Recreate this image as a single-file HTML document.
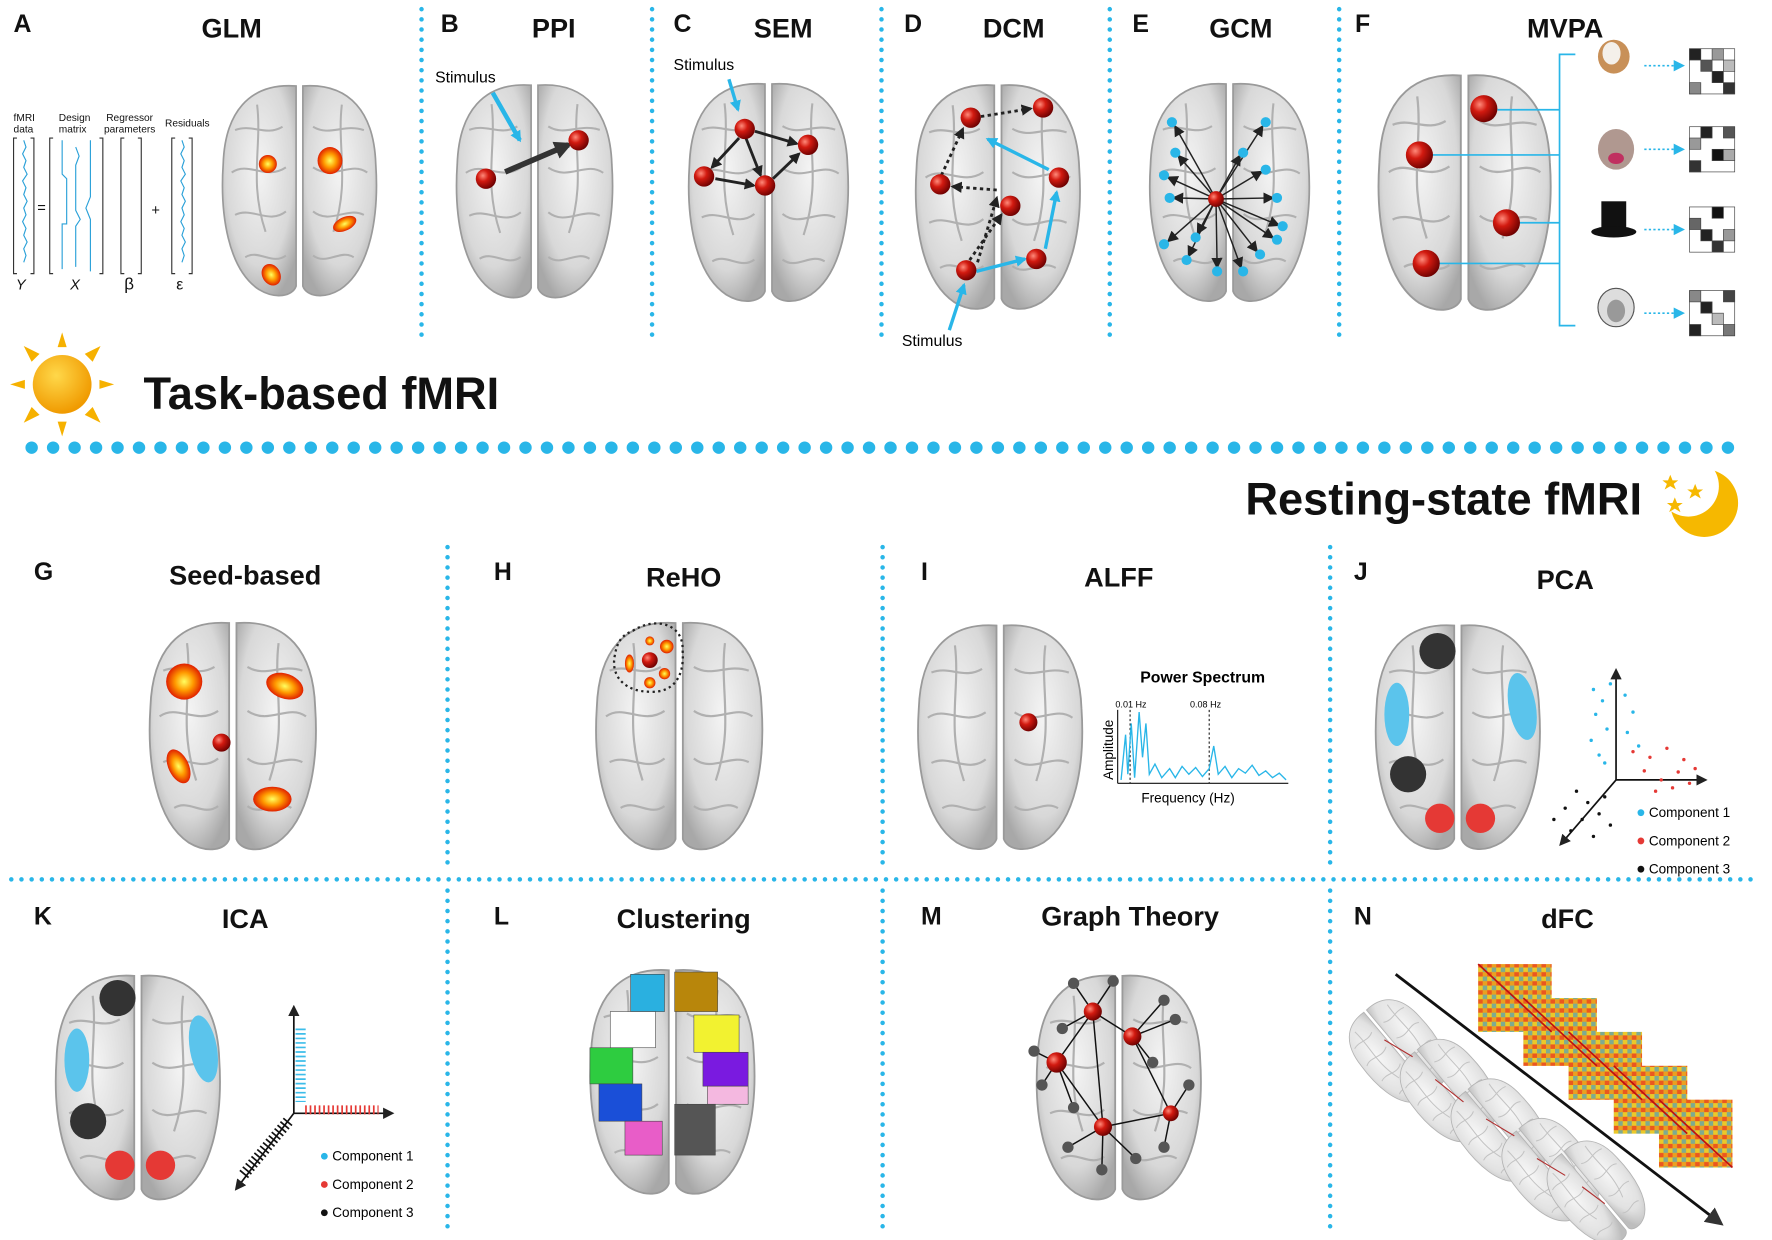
<!DOCTYPE html>
<html><head><meta charset="utf-8"><style>
html,body{margin:0;padding:0;background:#fff;}
svg{display:block;}
text{font-family:"Liberation Sans",sans-serif;}
</style></head><body>
<svg width="1772" height="1240" viewBox="0 0 1568 1097" xmlns="http://www.w3.org/2000/svg">
<defs>
<radialGradient id="hemi" cx="50%" cy="40%" r="65%"><stop offset="0" stop-color="#f4f4f4"/><stop offset="0.7" stop-color="#d8d8d8"/><stop offset="1" stop-color="#a8a8a8"/></radialGradient>
<radialGradient id="red" cx="35%" cy="35%" r="70%"><stop offset="0" stop-color="#ff8a7a"/><stop offset="0.4" stop-color="#d21a10"/><stop offset="1" stop-color="#6a0000"/></radialGradient>
<radialGradient id="blob" cx="50%" cy="50%" r="50%"><stop offset="0" stop-color="#ffff60"/><stop offset="0.5" stop-color="#ff9a00"/><stop offset="1" stop-color="#e02000"/></radialGradient>
<radialGradient id="sun" cx="40%" cy="35%" r="65%"><stop offset="0" stop-color="#ffd84a"/><stop offset="1" stop-color="#f09a00"/></radialGradient>
<marker id="ak" markerUnits="userSpaceOnUse" markerWidth="10" markerHeight="10" refX="8" refY="5" orient="auto"><path d="M0,0 L10,5 L0,10 z" fill="#222"/></marker>
<marker id="akb" markerUnits="userSpaceOnUse" markerWidth="16" markerHeight="16" refX="12" refY="8" orient="auto"><path d="M0,0 L16,8 L0,16 z" fill="#333"/></marker>
<marker id="ab" markerUnits="userSpaceOnUse" markerWidth="10" markerHeight="10" refX="8" refY="5" orient="auto"><path d="M0,0 L10,5 L0,10 z" fill="#29b6e8"/></marker>
<symbol id="brain" viewBox="0 0 100 130">
<path d="M48,4 C20,2 6,20 5,50 C3,80 8,112 26,124 C36,130 46,128 48,122 Z" fill="url(#hemi)" stroke="#9a9a9a" stroke-width="1"/>
<path d="M52,4 C80,2 94,20 95,50 C97,80 92,112 74,124 C64,130 54,128 52,122 Z" fill="url(#hemi)" stroke="#9a9a9a" stroke-width="1"/>
<g fill="none" stroke="#b0b0b0" stroke-width="1.2">
<path d="M12,30 C22,26 30,34 40,28"/><path d="M10,55 C20,48 30,60 42,52"/><path d="M12,80 C22,75 32,86 42,78"/><path d="M18,105 C26,100 34,110 42,104"/>
<path d="M58,28 C68,34 76,26 88,30"/><path d="M58,52 C70,60 80,48 90,55"/><path d="M58,78 C68,86 78,75 88,80"/><path d="M58,104 C66,110 74,100 82,105"/>
<path d="M25,15 C28,40 20,60 30,90"/><path d="M75,15 C72,40 80,60 70,90"/></g>
</symbol>
<pattern id="heat" width="8" height="8" patternUnits="userSpaceOnUse"><rect width="8" height="8" fill="#e8a020"/><rect width="4" height="4" fill="#40b0d0"/><rect x="4" y="4" width="4" height="4" fill="#e83020"/><rect x="4" width="4" height="4" fill="#e8e030"/></pattern>
</defs>

<g stroke="#29b6e8" stroke-width="4" stroke-linecap="round" stroke-dasharray="0 9">
<line x1="373" y1="8" x2="373" y2="302"/><line x1="577" y1="8" x2="577" y2="302"/><line x1="780" y1="8" x2="780" y2="302"/><line x1="982" y1="8" x2="982" y2="302"/><line x1="1185" y1="8" x2="1185" y2="302"/>
<line x1="396" y1="484" x2="396" y2="770"/><line x1="781" y1="484" x2="781" y2="770"/><line x1="1177" y1="484" x2="1177" y2="770"/>
<line x1="10" y1="778" x2="1558" y2="778"/>
<line x1="396" y1="788" x2="396" y2="1090"/><line x1="781" y1="788" x2="781" y2="1090"/><line x1="1177" y1="788" x2="1177" y2="1090"/>
</g>
<line x1="28" y1="396" x2="1545" y2="396" stroke="#29b6e8" stroke-width="11" stroke-linecap="round" stroke-dasharray="0 19"/>

<g font-weight="bold" font-size="22" fill="#111">
<text x="12" y="28">A</text><text x="390" y="28">B</text><text x="596" y="28">C</text><text x="800" y="28">D</text><text x="1002" y="28">E</text><text x="1199" y="28">F</text>
<text x="30" y="513">G</text><text x="437" y="513">H</text><text x="815" y="513">I</text><text x="1198" y="513">J</text>
<text x="30" y="818">K</text><text x="437" y="818">L</text><text x="815" y="818">M</text><text x="1198" y="818">N</text>
</g>
<g font-weight="bold" font-size="24" fill="#111" text-anchor="middle">
<text x="205" y="33">GLM</text><text x="490" y="33">PPI</text><text x="693" y="33">SEM</text><text x="897" y="33">DCM</text><text x="1098" y="33">GCM</text><text x="1385" y="33">MVPA</text>
<text x="217" y="517">Seed-based</text><text x="605" y="519">ReHO</text><text x="990" y="519">ALFF</text><text x="1385" y="521">PCA</text>
<text x="217" y="821">ICA</text><text x="605" y="821">Clustering</text><text x="1000" y="819">Graph Theory</text><text x="1387" y="821">dFC</text>
</g>

<g transform="translate(55,340)" fill="#f6b100">
<polygon points="-4,-33 4,-33 0,-46"/><polygon points="-4,33 4,33 0,46"/><polygon points="-33,-4 -33,4 -46,0"/><polygon points="33,-4 33,4 46,0"/>
<polygon points="20,-27 27,-20 34,-34"/><polygon points="-20,-27 -27,-20 -34,-34"/><polygon points="20,27 27,20 34,34"/><polygon points="-20,27 -27,20 -34,34"/>
<circle r="26" fill="url(#sun)"/></g>
<text x="127" y="362" font-size="40" font-weight="bold" fill="#111">Task-based fMRI</text>
<text x="1453" y="455" font-size="40" font-weight="bold" fill="#111" text-anchor="end">Resting-state fMRI</text>
<circle cx="1508" cy="445" r="30" fill="#f6b800"/><circle cx="1494" cy="430" r="27" fill="#fff"/>
<g fill="#f6b800">
<polygon points="1478,420 1480,425 1485,425 1481,428 1483,433 1478,430 1473,433 1475,428 1471,425 1476,425"/>
<polygon points="1500,428 1502,433 1507,433 1503,436 1505,441 1500,438 1495,441 1497,436 1493,433 1498,433"/>
<polygon points="1482,440 1484,445 1489,445 1485,448 1487,453 1482,450 1477,453 1479,448 1475,445 1480,445"/>
</g>

<!-- A GLM -->
<g font-size="9" fill="#111">
<text x="12" y="107">fMRI</text><text x="12" y="117">data</text>
<text x="52" y="107">Design</text><text x="52" y="117">matrix</text>
<text x="94" y="107">Regressor</text><text x="92" y="117">parameters</text>
<text x="146" y="112">Residuals</text>
<text x="14" y="256" font-style="italic" font-size="13">Y</text><text x="62" y="256" font-style="italic" font-size="13">X</text><text x="110" y="256" font-size="15">β</text><text x="156" y="256" font-size="14">ε</text>
<text x="33" y="188" font-size="13">=</text><text x="134" y="190" font-size="13">+</text>
</g>
<g fill="none" stroke="#333" stroke-width="1">
<path d="M15,122 h-3 v120 h3 M27,122 h3 v120 h-3"/><path d="M47,122 h-3 v120 h3 M88,122 h3 v120 h-3"/><path d="M110,122 h-3 v120 h3 M122,122 h3 v120 h-3"/><path d="M155,122 h-3 v120 h3 M167,122 h3 v120 h-3"/>
</g>
<g fill="none" stroke="#29a0d8" stroke-width="1">
<path d="M21,124 l2,6 -3,6 3,6 -2,6 3,6 -4,6 3,6 -2,6 3,6 -3,6 2,6 -3,6 3,6 -2,6 3,6 -3,6 2,6 -2,6"/>
<path d="M55,124 v30 l4,4 v40 h-4 v40"/><path d="M67,130 l3,8 -3,8 v40 l4,8 -4,6 v36"/><path d="M80,124 v50 l-4,10 4,10 v46"/>
<path d="M161,124 l2,6 -3,6 3,6 -2,6 3,6 -4,6 3,6 -2,6 3,6 -3,6 2,6 -3,6 3,6 -2,6 3,6 -3,6 2,6 -2,6"/>
</g>
<use href="#brain" x="190" y="70" width="150" height="195"/>
<circle cx="237" cy="145" r="8" fill="url(#blob)"/><ellipse cx="292" cy="142" rx="11" ry="12" fill="url(#blob)"/><ellipse cx="305" cy="198" rx="11" ry="6" fill="url(#blob)" transform="rotate(-25 305 198)"/><ellipse cx="240" cy="243" rx="8" ry="10" fill="url(#blob)" transform="rotate(-30 240 243)"/>

<!-- B PPI -->
<use href="#brain" x="397" y="68" width="152" height="200"/>
<text x="385" y="73" font-size="14">Stimulus</text>
<line x1="436" y1="82" x2="460" y2="124" stroke="#29b6e8" stroke-width="4" marker-end="url(#ab)"/>
<line x1="447" y1="152" x2="503" y2="128" stroke="#333" stroke-width="5" marker-end="url(#akb)"/>
<circle cx="430" cy="158" r="9" fill="url(#red)"/><circle cx="512" cy="124" r="9" fill="url(#red)"/>

<!-- C SEM -->
<use href="#brain" x="600" y="68" width="160" height="202"/>
<text x="596" y="62" font-size="14">Stimulus</text>
<line x1="645" y1="70" x2="653" y2="97" stroke="#29b6e8" stroke-width="3" marker-end="url(#ab)"/>
<g stroke="#222" stroke-width="2.5" marker-end="url(#ak)"><line x1="668" y1="116" x2="705" y2="127"/><line x1="654" y1="122" x2="630" y2="148"/><line x1="660" y1="122" x2="673" y2="155"/><line x1="633" y1="158" x2="667" y2="164"/><line x1="684" y1="158" x2="707" y2="136"/></g>
<circle cx="659" cy="114" r="9" fill="url(#red)"/><circle cx="715" cy="128" r="9" fill="url(#red)"/><circle cx="623" cy="156" r="9" fill="url(#red)"/><circle cx="677" cy="164" r="9" fill="url(#red)"/>

<!-- D DCM -->
<use href="#brain" x="803" y="66" width="160" height="214"/>
<g stroke="#222" stroke-width="2.5" stroke-dasharray="3 3" fill="none" marker-end="url(#ak)"><line x1="868" y1="103" x2="912" y2="96"/><line x1="833" y1="155" x2="852" y2="114"/><line x1="882" y1="168" x2="843" y2="165"/><line x1="858" y1="230" x2="886" y2="190"/><line x1="865" y1="232" x2="882" y2="175"/></g>
<g stroke="#29b6e8" stroke-width="3" marker-end="url(#ab)"><line x1="928" y1="150" x2="874" y2="123"/><line x1="925" y1="220" x2="935" y2="170"/><line x1="864" y1="240" x2="907" y2="229"/><line x1="840" y1="292" x2="853" y2="252"/></g>
<circle cx="859" cy="104" r="9" fill="url(#red)"/><circle cx="923" cy="95" r="9" fill="url(#red)"/><circle cx="832" cy="163" r="9" fill="url(#red)"/><circle cx="937" cy="157" r="9" fill="url(#red)"/><circle cx="894" cy="182" r="9" fill="url(#red)"/><circle cx="855" cy="239" r="9" fill="url(#red)"/><circle cx="917" cy="229" r="9" fill="url(#red)"/>
<text x="798" y="306" font-size="14">Stimulus</text>

<!-- E GCM -->
<use href="#brain" x="1008" y="68" width="160" height="202"/>
<g stroke="#222" stroke-width="1.3" marker-end="url(#ak)">
<line x1="1076" y1="176" x2="1040" y2="112"/><line x1="1076" y1="176" x2="1117" y2="112"/><line x1="1076" y1="176" x2="1043" y2="138"/><line x1="1076" y1="176" x2="1097" y2="138"/><line x1="1076" y1="176" x2="1034" y2="157"/><line x1="1076" y1="176" x2="1116" y2="152"/><line x1="1076" y1="176" x2="1039" y2="175"/><line x1="1076" y1="176" x2="1126" y2="175"/><line x1="1076" y1="176" x2="1034" y2="213"/><line x1="1076" y1="176" x2="1131" y2="199"/><line x1="1076" y1="176" x2="1052" y2="226"/><line x1="1076" y1="176" x2="1112" y2="222"/><line x1="1076" y1="176" x2="1077" y2="236"/><line x1="1076" y1="176" x2="1098" y2="236"/><line x1="1076" y1="176" x2="1060" y2="206"/><line x1="1076" y1="176" x2="1126" y2="210"/></g>
<g fill="#29b6e8"><circle cx="1037" cy="108" r="4.5"/><circle cx="1120" cy="108" r="4.5"/><circle cx="1040" cy="135" r="4.5"/><circle cx="1100" cy="135" r="4.5"/><circle cx="1030" cy="155" r="4.5"/><circle cx="1120" cy="150" r="4.5"/><circle cx="1035" cy="175" r="4.5"/><circle cx="1130" cy="175" r="4.5"/><circle cx="1030" cy="216" r="4.5"/><circle cx="1135" cy="200" r="4.5"/><circle cx="1050" cy="230" r="4.5"/><circle cx="1115" cy="225" r="4.5"/><circle cx="1077" cy="240" r="4.5"/><circle cx="1100" cy="240" r="4.5"/><circle cx="1058" cy="210" r="4.5"/><circle cx="1130" cy="212" r="4.5"/></g>
<circle cx="1076" cy="176" r="7" fill="url(#red)"/>

<!-- F MVPA -->
<use href="#brain" x="1210" y="60" width="172" height="218"/>
<g stroke="#29b6e8" stroke-width="1.5" fill="none"><line x1="1325" y1="97" x2="1380" y2="97"/><line x1="1265" y1="137" x2="1380" y2="137"/><line x1="1345" y1="197" x2="1380" y2="197"/><line x1="1270" y1="233" x2="1380" y2="233"/><path d="M1394,48 h-14 v240 h14"/></g>
<circle cx="1313" cy="96" r="12" fill="url(#red)"/><circle cx="1256" cy="137" r="12" fill="url(#red)"/><circle cx="1333" cy="197" r="12" fill="url(#red)"/><circle cx="1262" cy="233" r="12" fill="url(#red)"/>
<g><ellipse cx="1428" cy="50" rx="14" ry="15" fill="#c89058"/><ellipse cx="1426" cy="47" rx="8" ry="10" fill="#f4f0ea"/>
<ellipse cx="1430" cy="132" rx="16" ry="18" fill="#b09890"/><ellipse cx="1430" cy="140" rx="7" ry="5" fill="#c03060"/>
<rect x="1417" y="178" width="22" height="24" fill="#111"/><ellipse cx="1428" cy="205" rx="20" ry="5" fill="#111"/>
<ellipse cx="1430" cy="272" rx="16" ry="17" fill="#ddd" stroke="#555"/><ellipse cx="1430" cy="275" rx="8" ry="10" fill="#999"/></g>
<g stroke="#29b6e8" stroke-width="1.5" stroke-dasharray="2 2" marker-end="url(#ab)"><line x1="1455" y1="58" x2="1489" y2="58"/><line x1="1455" y1="132" x2="1489" y2="132"/><line x1="1455" y1="203" x2="1489" y2="203"/><line x1="1455" y1="277" x2="1489" y2="277"/></g>
<g stroke="#444" stroke-width="0.6">
<g transform="translate(1495,43)"><rect width="40" height="40" fill="#fff"/><rect x="0" y="0" width="10" height="10" fill="#222"/><rect x="20" y="0" width="10" height="10" fill="#999"/><rect x="10" y="10" width="10" height="10" fill="#555"/><rect x="30" y="10" width="10" height="10" fill="#bbb"/><rect x="20" y="20" width="10" height="10" fill="#222"/><rect x="0" y="30" width="10" height="10" fill="#888"/><rect x="30" y="30" width="10" height="10" fill="#333"/></g>
<g transform="translate(1495,112)"><rect width="40" height="40" fill="#fff"/><rect x="10" y="0" width="10" height="10" fill="#222"/><rect x="30" y="0" width="10" height="10" fill="#555"/><rect x="0" y="10" width="10" height="10" fill="#999"/><rect x="20" y="20" width="10" height="10" fill="#111"/><rect x="0" y="30" width="10" height="10" fill="#333"/><rect x="30" y="20" width="10" height="10" fill="#aaa"/></g>
<g transform="translate(1495,183)"><rect width="40" height="40" fill="#fff"/><rect x="20" y="0" width="10" height="10" fill="#111"/><rect x="0" y="10" width="10" height="10" fill="#666"/><rect x="10" y="20" width="10" height="10" fill="#222"/><rect x="30" y="20" width="10" height="10" fill="#999"/><rect x="20" y="30" width="10" height="10" fill="#333"/></g>
<g transform="translate(1495,257)"><rect width="40" height="40" fill="#fff"/><rect x="0" y="0" width="10" height="10" fill="#888"/><rect x="10" y="10" width="10" height="10" fill="#222"/><rect x="30" y="0" width="10" height="10" fill="#444"/><rect x="20" y="20" width="10" height="10" fill="#bbb"/><rect x="0" y="30" width="10" height="10" fill="#222"/><rect x="30" y="30" width="10" height="10" fill="#777"/></g>
</g>

<!-- G Seed -->
<use href="#brain" x="125" y="540" width="162" height="220"/>
<circle cx="163" cy="603" r="16" fill="url(#blob)"/><ellipse cx="252" cy="607" rx="17" ry="11" fill="url(#blob)" transform="rotate(20 252 607)"/><ellipse cx="158" cy="678" rx="9" ry="16" fill="url(#blob)" transform="rotate(-25 158 678)"/><ellipse cx="241" cy="707" rx="17" ry="11" fill="url(#blob)"/><circle cx="196" cy="657" r="8" fill="url(#red)"/>

<!-- H ReHo -->
<use href="#brain" x="520" y="540" width="162" height="220"/>
<path d="M560,558 C580,545 605,552 604,575 C606,600 595,613 575,612 C555,612 540,600 544,580 C546,568 550,562 560,558 Z" fill="none" stroke="#222" stroke-width="2" stroke-dasharray="2 3"/>
<circle cx="590" cy="572" r="6" fill="url(#blob)"/><circle cx="575" cy="567" r="4" fill="url(#blob)"/><ellipse cx="557" cy="587" rx="4" ry="8" fill="url(#blob)"/><circle cx="588" cy="596" r="5" fill="url(#blob)"/><circle cx="575" cy="604" r="5" fill="url(#blob)"/><circle cx="575" cy="584" r="7" fill="url(#red)"/>

<!-- I ALFF -->
<use href="#brain" x="805" y="545" width="160" height="212"/>
<circle cx="910" cy="639" r="8" fill="url(#red)"/>
<text x="1009" y="604" font-size="14" font-weight="bold">Power Spectrum</text>
<text x="987" y="626" font-size="8">0.01 Hz</text><text x="1053" y="626" font-size="8">0.08 Hz</text>
<line x1="989" y1="628" x2="989" y2="693" stroke="#111"/><line x1="989" y1="693" x2="1140" y2="693" stroke="#111"/>
<g stroke="#222" stroke-dasharray="2 2"><line x1="1000" y1="628" x2="1000" y2="693"/><line x1="1070" y1="628" x2="1070" y2="693"/></g>
<polyline fill="none" stroke="#29b6e8" stroke-width="1.2" points="992,690 996,650 998,685 1001,640 1004,688 1008,630 1011,670 1014,640 1017,685 1022,676 1028,688 1035,680 1040,688 1046,678 1052,685 1058,679 1064,687 1070,680 1074,660 1078,685 1084,678 1090,688 1096,680 1102,684 1108,677 1114,686 1120,682 1126,688 1132,684 1138,690"/>
<text x="985" y="690" font-size="12" transform="rotate(-90 985 690)">Amplitude</text>
<text x="1010" y="710" font-size="12">Frequency (Hz)</text>

<!-- J PCA -->
<use href="#brain" x="1210" y="545" width="160" height="212"/>
<circle cx="1272" cy="576" r="16" fill="#333"/><circle cx="1246" cy="685" r="16" fill="#333"/><circle cx="1274" cy="724" r="13" fill="#e53935"/><circle cx="1310" cy="724" r="13" fill="#e53935"/>
<ellipse cx="1236" cy="632" rx="11" ry="28" fill="#5bc4ec"/><ellipse cx="1347" cy="625" rx="12" ry="30" fill="#5bc4ec" transform="rotate(-10 1347 625)"/>
<g stroke="#111" stroke-width="1.5"><line x1="1430" y1="690" x2="1430" y2="593" marker-end="url(#ak)"/><line x1="1430" y1="690" x2="1509" y2="690" marker-end="url(#ak)"/><line x1="1430" y1="690" x2="1381" y2="747" marker-end="url(#ak)"/></g>
<g fill="#29b6e8"><circle cx="1410" cy="610" r="1.5"/><circle cx="1418" cy="620" r="1.5"/><circle cx="1425" cy="605" r="1.5"/><circle cx="1412" cy="632" r="1.5"/><circle cx="1422" cy="645" r="1.5"/><circle cx="1408" cy="655" r="1.5"/><circle cx="1438" cy="615" r="1.5"/><circle cx="1445" cy="630" r="1.5"/><circle cx="1440" cy="648" r="1.5"/><circle cx="1415" cy="668" r="1.5"/><circle cx="1450" cy="660" r="1.5"/><circle cx="1420" cy="675" r="1.5"/></g>
<g fill="#e53935"><circle cx="1445" cy="665" r="1.5"/><circle cx="1460" cy="670" r="1.5"/><circle cx="1475" cy="662" r="1.5"/><circle cx="1490" cy="672" r="1.5"/><circle cx="1455" cy="682" r="1.5"/><circle cx="1470" cy="690" r="1.5"/><circle cx="1485" cy="683" r="1.5"/><circle cx="1500" cy="680" r="1.5"/><circle cx="1465" cy="700" r="1.5"/><circle cx="1480" cy="697" r="1.5"/><circle cx="1495" cy="693" r="1.5"/></g>
<g fill="#111"><circle cx="1395" cy="700" r="1.5"/><circle cx="1405" cy="710" r="1.5"/><circle cx="1385" cy="715" r="1.5"/><circle cx="1400" cy="725" r="1.5"/><circle cx="1415" cy="720" r="1.5"/><circle cx="1390" cy="735" r="1.5"/><circle cx="1410" cy="740" r="1.5"/><circle cx="1420" cy="705" r="1.5"/><circle cx="1375" cy="725" r="1.5"/><circle cx="1425" cy="730" r="1.5"/></g>
<g font-size="12"><circle cx="1452" cy="719" r="3" fill="#29b6e8"/><text x="1459" y="723">Component 1</text><circle cx="1452" cy="744" r="3" fill="#e53935"/><text x="1459" y="748">Component 2</text><circle cx="1452" cy="769" r="3" fill="#111"/><text x="1459" y="773">Component 3</text></g>

<!-- K ICA -->
<use href="#brain" x="42" y="855" width="160" height="212"/>
<circle cx="104" cy="883" r="16" fill="#333"/><circle cx="78" cy="992" r="16" fill="#333"/><circle cx="106" cy="1031" r="13" fill="#e53935"/><circle cx="142" cy="1031" r="13" fill="#e53935"/>
<ellipse cx="68" cy="938" rx="11" ry="28" fill="#5bc4ec"/><ellipse cx="180" cy="928" rx="12" ry="30" fill="#5bc4ec" transform="rotate(-10 180 928)"/>
<g stroke="#111" stroke-width="1.5"><line x1="260" y1="985" x2="260" y2="891" marker-end="url(#ak)"/><line x1="260" y1="985" x2="347" y2="985" marker-end="url(#ak)"/><line x1="260" y1="985" x2="209" y2="1052" marker-end="url(#ak)"/></g>
<g stroke="#29b6e8" stroke-width="9" stroke-dasharray="1.5 2.5" opacity="0.9"><line x1="266" y1="910" x2="266" y2="975"/></g>
<g stroke="#e53935" stroke-width="8" stroke-dasharray="1.5 2.5"><line x1="270" y1="982" x2="335" y2="982"/></g>
<g stroke="#111" stroke-width="10" stroke-dasharray="1.5 2.5"><line x1="255" y1="992" x2="215" y2="1040"/></g>
<g font-size="12"><circle cx="287" cy="1023" r="3" fill="#29b6e8"/><text x="294" y="1027">Component 1</text><circle cx="287" cy="1048" r="3" fill="#e53935"/><text x="294" y="1052">Component 2</text><circle cx="287" cy="1073" r="3" fill="#111"/><text x="294" y="1077">Component 3</text></g>

<!-- L Clustering -->
<use href="#brain" x="515" y="850" width="160" height="212"/>
<g stroke="#444" stroke-width="0.5">
<rect x="558" y="862" width="30" height="33" fill="#2ab0e0"/><rect x="540" y="895" width="40" height="32" fill="#fff"/><rect x="522" y="927" width="38" height="32" fill="#2ecc40"/><rect x="530" y="959" width="38" height="33" fill="#1a4fd8"/><rect x="553" y="992" width="33" height="30" fill="#e85dc8"/>
<rect x="597" y="860" width="38" height="35" fill="#b8860b"/><rect x="614" y="898" width="40" height="33" fill="#f2f230"/><rect x="622" y="931" width="40" height="30" fill="#7a1ae0"/><rect x="626" y="961" width="36" height="16" fill="#f4b8e0"/><rect x="597" y="977" width="36" height="45" fill="#555"/>
</g>

<!-- M Graph -->
<use href="#brain" x="910" y="855" width="160" height="212"/>
<g stroke="#111" stroke-width="1.3">
<line x1="967" y1="895" x2="1002" y2="917"/><line x1="967" y1="895" x2="935" y2="940"/><line x1="967" y1="895" x2="950" y2="870"/><line x1="967" y1="895" x2="985" y2="868"/><line x1="967" y1="895" x2="976" y2="997"/><line x1="1002" y1="917" x2="1030" y2="885"/><line x1="1002" y1="917" x2="1040" y2="902"/><line x1="1002" y1="917" x2="1036" y2="985"/><line x1="1002" y1="917" x2="1020" y2="940"/><line x1="935" y1="940" x2="915" y2="930"/><line x1="935" y1="940" x2="922" y2="960"/><line x1="935" y1="940" x2="950" y2="980"/><line x1="976" y1="997" x2="1036" y2="985"/><line x1="976" y1="997" x2="945" y2="1015"/><line x1="976" y1="997" x2="975" y2="1035"/><line x1="976" y1="997" x2="1005" y2="1025"/><line x1="1036" y1="985" x2="1052" y2="960"/><line x1="1036" y1="985" x2="1030" y2="1015"/><line x1="935" y1="940" x2="976" y2="997"/><line x1="967" y1="895" x2="940" y2="910"/></g>
<g fill="#555"><circle cx="950" cy="870" r="5"/><circle cx="985" cy="868" r="5"/><circle cx="1030" cy="885" r="5"/><circle cx="1040" cy="902" r="5"/><circle cx="1020" cy="940" r="5"/><circle cx="915" cy="930" r="5"/><circle cx="922" cy="960" r="5"/><circle cx="950" cy="980" r="5"/><circle cx="945" cy="1015" r="5"/><circle cx="975" cy="1035" r="5"/><circle cx="1005" cy="1025" r="5"/><circle cx="1052" cy="960" r="5"/><circle cx="1030" cy="1015" r="5"/><circle cx="940" cy="910" r="5"/></g>
<circle cx="967" cy="895" r="8" fill="url(#red)"/><circle cx="1002" cy="917" r="8" fill="url(#red)"/><circle cx="935" cy="940" r="9" fill="url(#red)"/><circle cx="976" cy="997" r="8" fill="url(#red)"/><circle cx="1036" cy="985" r="7" fill="url(#red)"/>

<!-- N dFC -->
<g opacity="0.75">
<use href="#brain" x="1200" y="870" width="75" height="120" transform="rotate(-40 1237 930)"/>
<use href="#brain" x="1245" y="905" width="75" height="120" transform="rotate(-40 1282 965)"/>
<use href="#brain" x="1290" y="940" width="75" height="120" transform="rotate(-40 1327 1000)"/>
<use href="#brain" x="1335" y="975" width="75" height="120" transform="rotate(-40 1372 1035)"/>
<use href="#brain" x="1375" y="1000" width="75" height="110" transform="rotate(-40 1412 1055)"/>
</g>
<g stroke="#b03030" stroke-width="1"><line x1="1225" y1="920" x2="1250" y2="935"/><line x1="1270" y1="955" x2="1295" y2="975"/><line x1="1315" y1="990" x2="1340" y2="1005"/><line x1="1360" y1="1025" x2="1385" y2="1040"/><line x1="1400" y1="1050" x2="1420" y2="1065"/></g>
<line x1="1235" y1="862" x2="1522" y2="1082" stroke="#111" stroke-width="2.5" marker-end="url(#akb)"/>
<g>
<rect x="1308" y="853" width="65" height="60" fill="url(#heat)"/>
<rect x="1348" y="883" width="65" height="60" fill="url(#heat)"/>
<rect x="1388" y="913" width="65" height="60" fill="url(#heat)"/>
<rect x="1428" y="943" width="65" height="60" fill="url(#heat)"/>
<rect x="1468" y="973" width="65" height="60" fill="url(#heat)"/>
<g fill="#f0a020" opacity="0.35"><rect x="1308" y="853" width="65" height="60"/><rect x="1348" y="883" width="65" height="60"/><rect x="1388" y="913" width="65" height="60"/><rect x="1428" y="943" width="65" height="60"/><rect x="1468" y="973" width="65" height="60"/></g>
<g stroke="#c01010" stroke-width="1.5"><line x1="1308" y1="853" x2="1373" y2="913"/><line x1="1348" y1="883" x2="1413" y2="943"/><line x1="1388" y1="913" x2="1453" y2="973"/><line x1="1428" y1="943" x2="1493" y2="1003"/><line x1="1468" y1="973" x2="1533" y2="1033"/></g>
</g>
</svg>
</body></html>
